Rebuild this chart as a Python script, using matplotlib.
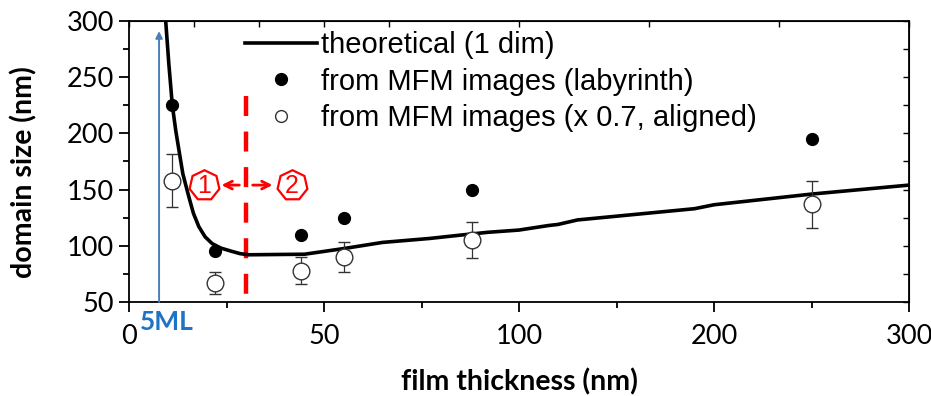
import matplotlib
matplotlib.use("Agg")
import matplotlib.pyplot as plt
from matplotlib.lines import Line2D
from matplotlib.ticker import FixedLocator
import numpy as np

# theoretical curve (1 dim)
theo_x = [9.4, 10.2, 11.1, 12.0, 12.8, 13.8, 15.3, 16.5, 17.9, 19.5, 21.3, 23.5, 26.4, 28.5, 30.7,
          45, 50, 55, 65, 77, 85, 92, 100, 115, 120, 130, 190, 200, 250, 300]
theo_y = [300, 262, 225, 202, 185, 164, 144, 129, 117, 108, 102, 98, 95, 93, 92,
          92.5, 95, 97.5, 103, 106.5, 109.5, 112, 114, 118, 119, 123, 133, 136.5, 146, 154]

# measured domain sizes from MFM images
thick = [11, 22, 44, 55, 88, 250]
labyrinth = [225, 95, 110, 125, 150, 195]
aligned = [158, 67, 78, 90, 105, 137]
aligned_err = [23.5, 10, 12, 13.5, 16, 21]

xticks = [0, 50, 100, 200, 300]
xminor = [25, 75, 150, 250]


def fwd(x):
    x = np.asarray(x, dtype=float)
    return np.where(x <= 100, x, 100 + (x - 100) / 2)


def inv(y):
    y = np.asarray(y, dtype=float)
    return np.where(y <= 100, y, 100 + (y - 100) * 2)


plt.rcParams['font.family'] = ['Lato', 'DejaVu Sans']

fig = plt.figure(figsize=(9.31, 3.96), dpi=100)
ax = fig.add_axes([0.1386, 0.2374, 0.8378, 0.7096])
ax.set_xscale('function', functions=(fwd, inv))

ax.plot(theo_x, theo_y, color='black', lw=2.6, zorder=3, solid_capstyle='butt')
ax.plot(thick, labyrinth, 'o', color='black', ms=8.5, zorder=4)
ax.errorbar(thick, aligned, yerr=aligned_err, fmt='o', ms=12, mfc='white', mec='#333333',
            mew=1.0, ecolor='#333333', elinewidth=0.9, capsize=4.5, capthick=0.9, zorder=5)

# dashed boundary and regions
ax.plot([30, 30], [233, 50], color='red', lw=3.2, dashes=(4.5, 3.5), zorder=2, clip_on=False)
ax.annotate('', xy=(23.0, 154), xytext=(29.0, 154),
            arrowprops=dict(arrowstyle='->', color='red', lw=2, mutation_scale=14))
ax.annotate('', xy=(37.5, 154), xytext=(31.0, 154),
            arrowprops=dict(arrowstyle='->', color='red', lw=2, mutation_scale=14))
for xc, lab in [(19.2, '1'), (41.7, '2')]:
    ax.plot([xc], [154], marker=(7, 0, 0), ms=22, mfc='white', mec='red', mew=1.6, zorder=6)
    ax.text(xc, 153.5, lab, color='red', ha='center', va='center', fontsize=18,
            family='Liberation Sans', zorder=7)

# 5ML marker
ax.annotate('', xy=(7.7, 291), xytext=(7.7, 50),
            arrowprops=dict(arrowstyle='-|>', color='#4a7ebb', lw=1.4, mutation_scale=10,
                            shrinkA=0, shrinkB=0))
ax.text(9.7, 32, '5ML', color='#1f73c4', fontsize=19, fontweight='bold', ha='center',
        va='center', clip_on=False)

ax.set_xlim(0, 300)
ax.set_ylim(50, 300)
ax.xaxis.set_major_locator(FixedLocator(xticks))
ax.xaxis.set_minor_locator(FixedLocator(xminor))
ax.set_xticklabels([str(t) for t in xticks])
ax.set_yticks([50, 100, 150, 200, 250, 300])
ax.set_yticks(np.arange(75, 300, 50), minor=True)
ax.tick_params(axis='both', which='major', direction='out', length=7, width=1.3,
               labelsize=19.5, colors='black')
ax.tick_params(axis='both', which='minor', direction='out', length=4.5, width=1.3)
ax.tick_params(axis='x', pad=9)
ax.tick_params(axis='y', pad=4)
for s in ax.spines.values():
    s.set_linewidth(1.3)

# inward ticks on top and right
sec = ax.secondary_yaxis('right')
sec.set_yticks(np.arange(50, 301, 25))
sec.tick_params(direction='in', length=4, width=1.0, labelright=False)
secx = ax.secondary_xaxis('top', functions=(lambda v: v, lambda v: v))
secx.xaxis.set_major_locator(FixedLocator(xticks + xminor))
secx.tick_params(direction='in', length=4, width=1.0, labeltop=False)

ax.set_xlabel('film thickness (nm)', fontsize=20.5, fontweight='bold', labelpad=14)
ax.set_ylabel('domain size (nm)', fontsize=20.5, fontweight='bold')
ax.yaxis.set_label_coords(-0.118, 0.462)

handles = [
    Line2D([], [], color='black', lw=2.6),
    Line2D([], [], marker='o', ls='none', color='black', ms=8.5),
    Line2D([], [], marker='o', ls='none', mfc='white', mec='#333333', mew=1.0, ms=8.5),
]
labels = ['theoretical (1 dim)', 'from MFM images (labyrinth)', 'from MFM images (x 0.7, aligned)']
ax.legend(handles, labels, loc='upper left', bbox_to_anchor=(0.149, 0.965), frameon=False,
          prop={'family': 'Liberation Sans', 'size': 21}, handlelength=2.45, handletextpad=0.15,
          labelspacing=0.3, borderaxespad=0, borderpad=0)

fig.savefig('out.png', dpi=100)
